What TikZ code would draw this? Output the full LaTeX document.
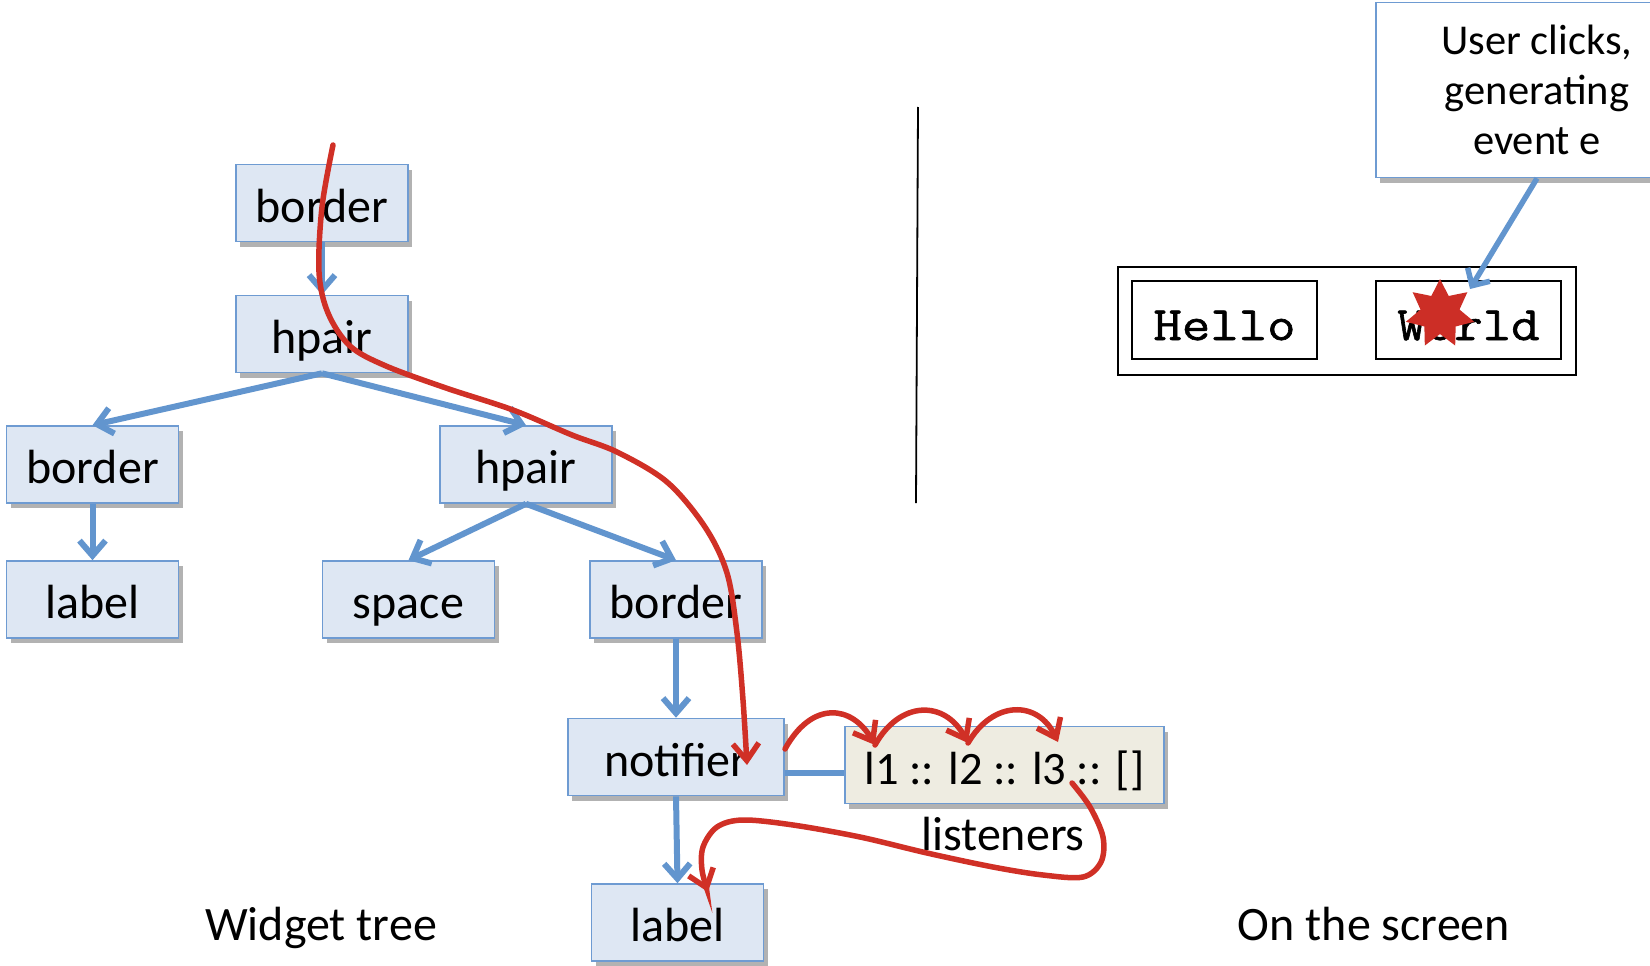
\documentclass[tikz,border=0pt]{standalone}
\usepackage{fontspec}
\setmainfont{Carlito}
\newfontfamily\cmono{Latin Modern Mono}[FakeStretch=1.15,FakeBold=1.3]
\usetikzlibrary{arrows.meta,shapes.geometric,shadows,calc}
\definecolor{boxfill}{RGB}{222,231,243}
\definecolor{boxline}{RGB}{110,155,210}
\definecolor{arrblue}{RGB}{98,149,206}
\definecolor{lstfill}{RGB}{238,236,225}
\definecolor{redc}{RGB}{208,48,38}
\definecolor{starred}{RGB}{204,46,38}
\begin{document}
\begin{tikzpicture}[x=1pt,y=-1pt,
  shad/.style={drop shadow={shadow xshift=4pt,shadow yshift=-5pt,opacity=0.3,fill=black}},
  wbox/.style={draw=boxline,line width=1.6pt,fill=boxfill,minimum width=172pt,minimum height=77pt,
    inner sep=0pt,font=\fontsize{48}{57}\selectfont,text height=43pt,text depth=5pt,shad},
  tedge/.style={draw=arrblue,line width=6pt,-{Straight Barb[length=15pt,width=26pt]}},
  redarr/.style={draw=redc,line width=5.5pt,line cap=round,-{Straight Barb[length=17pt,width=26pt]}},
  lbl/.style={font=\fontsize{48}{57}\selectfont,inner sep=0pt,anchor=base},
  scrbox/.style={draw=black,line width=2pt,inner sep=0pt},
  hw/.style={scrbox,minimum width=185pt,minimum height=78pt,font=\cmono\fontsize{48}{55}\selectfont,text height=41pt,text depth=1pt}
]
\useasboundingbox (0,0) rectangle (1650,966);
\clip (0,0) rectangle (1650,966);

% widget tree
\node[wbox] (b1) at (322,203) {border};
\node[wbox] (h1) at (322,334) {hpair};
\node[wbox] (b2) at (92.5,464.5) {border};
\node[wbox] (h2) at (526,464.5) {hpair};
\node[wbox] (l1) at (92.5,599.5) {label};
\node[wbox] (sp) at (408.5,599.5) {space};
\node[wbox] (b3) at (676,599.5) {border};
\node[wbox,minimum width=216pt] (nt) at (676,757) {notifier};
\node[wbox] (l2) at (677.5,922.5) {label};
\node[wbox,fill=lstfill,minimum width=319pt,font=\fontsize{46.5}{55}\selectfont] (ls) at (1004.5,765) {l1 :: l2 :: l3 :: []};

\node[lbl] (lstxt) at (1003,850) {listeners};
\node[lbl] (wt) at (321,940) {Widget tree};
\node[lbl] (os) at (1374,940) {On the screen};

\draw[tedge] (b1.south) -- (h1.north);
\draw[tedge] (h1.south) -- (b2.north);
\draw[tedge] (h1.south) -- (h2.north);
\draw[tedge] (b2.south) -- (l1.north);
\draw[tedge] (h2.south) -- (sp.north);
\draw[tedge] (h2.south) -- (b3.north);
\draw[tedge] (b3.south) -- (nt.north);
\draw[tedge] (nt.south) -- (l2.north);
\draw[draw=arrblue,line width=6pt] ($(nt.east)+(0,16)$) -- ($(ls.west)+(0,8)$);

% divider
\coordinate (dv1) at (918,107);
\coordinate (dv2) at (916,503);
\draw[line width=1.8pt] (dv1) -- (dv2);

% screen
\node[scrbox,minimum width=458pt,minimum height=108pt] (scr) at (1347,321) {};
\node[hw] (hello) at (1224.5,320) {Hello};
\node[hw] (world) at (1468.5,320) {World};
\node[star,star points=7,star point ratio=1.75,fill=starred,minimum size=70pt,inner sep=0pt] (click) at (1440,314) {};
\node[draw=boxline,line width=1.6pt,fill=white,minimum width=322pt,minimum height=175pt,inner sep=0pt,
  align=center,font=\fontsize{42.5}{50}\selectfont,shad] (call) at (1537,90)
  {User clicks,\\generating\\event e};
\coordinate (ctip) at (1470,289);
\draw[draw=arrblue,line width=5.5pt,-{Straight Barb[length=13pt,width=26pt]}] (call.south) -- (ctip);

% red event path
\coordinate (rs) at (333,145);
\coordinate (re) at (747,765);
\draw[redarr] plot[smooth,tension=0.55] coordinates {(rs) (322,207) (319,272) (328,313) (350,346) (386,366) (446,388) (513,410) (572,435) (617,452) (667,482) (705,527) (727,573) (737,633) (743,700) (re)};

\coordinate (q0) at (785,749);
\coordinate (q1) at (875,745);
\coordinate (q2) at (968,743);
\coordinate (q3) at (1058,742);
\draw[redarr] (q0) .. controls (812,700) and (852,705) .. (q1);
\draw[redarr] (q1) .. controls (900,700) and (945,700) .. (q2);
\draw[redarr] (q2) .. controls (993,700) and (1038,700) .. (q3);

\coordinate (fs) at (1072,783);
\coordinate (fe) at (708,892);
\draw[redarr] plot[smooth,tension=0.55] coordinates {(fs) (1090,807) (1103,837) (1101,862) (1083,877) (1043,875) (993,867) (927,853) (860,837) (793,825) (743,820) (717,827) (703,847) (702,870) (fe)};
\end{tikzpicture}
\end{document}
